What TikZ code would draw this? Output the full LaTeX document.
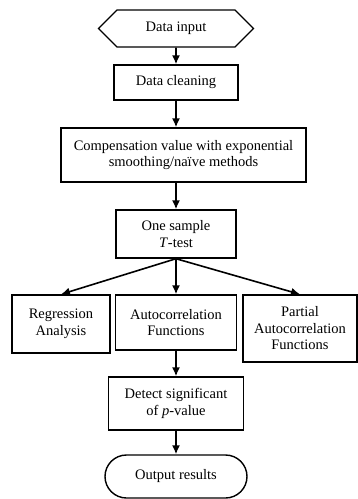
\documentclass[tikz,border=0pt]{standalone}
\usepackage{fontspec}
\setmainfont{Liberation Serif}
\usetikzlibrary{arrows.meta,shapes.symbols,shapes.misc}

\tikzset{
	stepbox/.style={draw, line width=1.4pt, align=center, inner sep=0pt},
	flow/.style={line width=1.6pt, -{Latex[length=9pt,width=8pt]}}
}

\begin{document}
\begin{tikzpicture}[x=1pt,y=-1pt,font=\fontsize{14.5}{16.5}\selectfont]
\useasboundingbox (0,0) rectangle (358,499);

%start and cleaning
\node[stepbox, signal, signal to=west and east, minimum width=155pt, minimum height=37pt] (input) at (176,28.5) {Data input};
\node[stepbox, minimum width=124pt, minimum height=35pt] (clean) at (176,82.5) {Data cleaning};

%compensation and test
\node[stepbox, minimum width=245pt, minimum height=54pt] (comp) at (183.5,155) {Compensation value with exponential\\smoothing/na\"ive methods};
\node[stepbox, minimum width=120pt, minimum height=48pt] (ttest) at (176,234) {One sample\\\textit{T}-test};

%three analyses
\node[stepbox, minimum width=98pt, minimum height=58pt] (regr) at (61,324) {Regression\\Analysis};
\node[stepbox, minimum width=121pt, minimum height=55pt] (acf) at (176,322.5) {Autocorrelation\\Functions};
\node[stepbox, minimum width=114pt, minimum height=67pt] (pacf) at (300,328.5) {Partial\\Autocorrelation\\Functions};

%end
\node[stepbox, minimum width=135pt, minimum height=53pt] (detect) at (176,403.5) {Detect significant\\of \textit{p}-value};
\node[stepbox, rounded rectangle, minimum width=142pt, minimum height=43pt] (output) at (176,476.5) {Output results};

%draw arrows
\draw[flow] (input) -- (clean);
\draw[flow] (clean.south) -- (clean.south |- comp.north);
\draw[flow] (comp.south -| ttest.north) -- (ttest.north);
\foreach \n in {regr,acf,pacf} {
	\draw[flow] (ttest.south) -- (\n.north);
}
\draw[flow] (acf) -- (detect);
\draw[flow] (detect) -- (output);
\end{tikzpicture}
\end{document}
